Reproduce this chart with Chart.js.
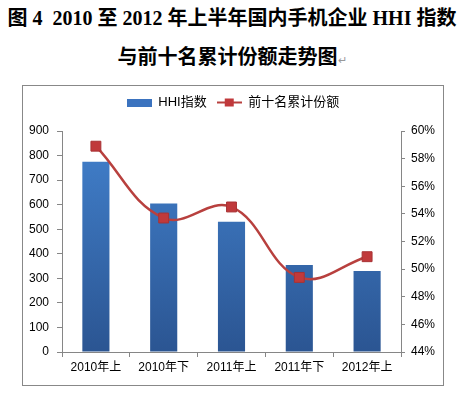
<!DOCTYPE html>
<html>
<head>
<meta charset="utf-8">
<script src="https://cdn.jsdelivr.net/npm/chart.js@4.4.1/dist/chart.umd.min.js"></script>
<style>
    body { margin: 0; background: #fff; width: 464px; height: 395px; position: relative; overflow: hidden; }
    .title { position: absolute; left: 0; width: 464px; text-align: center; font-family: "Liberation Serif", "Noto Sans CJK SC", serif; font-weight: bold; font-size: 20px; color: #000; line-height: 24px; white-space: nowrap; }
    .mark { font-weight: normal; font-size: 11px; color: #999; }
    #frame { position: absolute; left: 22px; top: 85px; width: 420px; height: 299px; border: 1px solid #888; }
</style>
</head>
<body>
<div class="title" style="top:6px;">图 4&nbsp; 2010 至 2012 年上半年国内手机企业 HHI 指数</div>
<div class="title" style="top:45px;">与前十名累计份额走势图<span class="mark">↵</span></div>
<div id="frame"><canvas id="chart" width="420" height="299"></canvas></div>
<script>
document.addEventListener("DOMContentLoaded", function() {
    const categories = ['2010年上', '2010年下', '2011年上', '2011年下', '2012年上'];
    const hhiValues = [775, 605, 530, 354, 330];
    const top10Share = [58.9, 53.7, 54.5, 49.4, 50.9];
    const leftTicks = [0, 100, 200, 300, 400, 500, 600, 700, 800, 900];
    const rightTicks = [44, 46, 48, 50, 52, 54, 56, 58, 60];

    const axisColor = '#868686';
    const lineColor = '#b8403e';
    const tickFont = { family: '"Liberation Sans", "Noto Sans CJK SC", sans-serif', size: 12 };

    // legend icons
    function barIcon() {
        const c = document.createElement('canvas');
        c.width = 25; c.height = 8;
        const g = c.getContext('2d');
        g.fillStyle = '#3b73bf';
        g.fillRect(0, 0, 25, 8);
        return c;
    }
    function lineIcon() {
        const c = document.createElement('canvas');
        c.width = 25; c.height = 10;
        const g = c.getContext('2d');
        g.strokeStyle = lineColor;
        g.lineWidth = 2;
        g.beginPath(); g.moveTo(0, 5); g.lineTo(25, 5); g.stroke();
        g.fillStyle = '#c0393b';
        g.fillRect(8, 1, 9, 8);
        return c;
    }

    function barGradient(context) {
        const area = context.chart.chartArea;
        if (!area) return '#3a6fb8';
        const g = context.chart.ctx.createLinearGradient(0, area.top, 0, area.bottom);
        g.addColorStop(0, '#4281cd');
        g.addColorStop(1, '#2b5592');
        return g;
    }

    // extra room between legend and plot area
    const legendGap = {
        id: 'legendGap',
        beforeLayout(chart) {
            const lg = chart.legend;
            if (lg && !lg._gapPatched) {
                const fit = lg.fit;
                lg.fit = function() { fit.call(this); this.height += 12; };
                lg._gapPatched = true;
            }
        }
    };

    const ctx = document.getElementById('chart').getContext('2d');
    new Chart(ctx, {
        type: 'bar',
        data: {
            labels: categories,
            datasets: [
                {
                    type: 'line',
                    label: '前十名累计份额',
                    data: top10Share,
                    yAxisID: 'y1',
                    borderColor: lineColor,
                    borderWidth: 2.5,
                    tension: 0.4,
                    pointStyle: 'rect',
                    pointRadius: 7,
                    pointBackgroundColor: '#c0393b',
                    pointBorderColor: '#a83234',
                    pointBorderWidth: 1,
                    order: 0
                },
                {
                    label: 'HHI指数',
                    data: hhiValues,
                    yAxisID: 'y',
                    backgroundColor: barGradient,
                    categoryPercentage: 1,
                    barPercentage: 0.4,
                    order: 1
                }
            ]
        },
        options: {
            responsive: false,
            animation: false,
            layout: { padding: { top: 0, left: 0, right: 0, bottom: 0 } },
            plugins: {
                tooltip: { enabled: false },
                legend: {
                    reverse: true,
                    labels: {
                        usePointStyle: true,
                        pointStyleWidth: 25,
                        padding: 10,
                        color: '#000',
                        font: { family: '"Liberation Sans", "Noto Sans CJK SC", sans-serif', size: 13 },
                        generateLabels: function(chart) {
                            return chart.data.datasets.map((ds, i) => ({
                                text: ds.label,
                                pointStyle: ds.type === 'line' ? lineIcon() : barIcon(),
                                fillStyle: 'transparent',
                                strokeStyle: 'transparent',
                                lineWidth: 0,
                                datasetIndex: i,
                                fontColor: '#000'
                            }));
                        }
                    }
                }
            },
            scales: {
                x: {
                    grid: { display: true, drawOnChartArea: false, tickLength: 5, color: axisColor, offset: true },
                    border: { color: axisColor },
                    ticks: { color: '#000', font: tickFont, padding: 3, maxRotation: 0 },
                    afterFit: function(scale) { scale.height = 33; }
                },
                y: {
                    position: 'left',
                    min: 0, max: 900,
                    afterBuildTicks: function(scale) { scale.ticks = leftTicks.map(v => ({ value: v })); },
                    grid: { drawOnChartArea: false, tickLength: 5, color: axisColor },
                    border: { color: axisColor },
                    ticks: { color: '#000', font: tickFont, padding: 8 },
                    afterFit: function(scale) { scale.width = 39; }
                },
                y1: {
                    position: 'right',
                    min: 44, max: 60,
                    afterBuildTicks: function(scale) { scale.ticks = rightTicks.map(v => ({ value: v })); },
                    grid: { drawOnChartArea: false, tickLength: 4, color: axisColor },
                    border: { color: axisColor },
                    ticks: { color: '#000', font: tickFont, padding: 6, callback: v => v + '%' },
                    afterFit: function(scale) { scale.width = 42; }
                }
            }
        },
        plugins: [legendGap]
    });
});
</script>
</body>
</html>
